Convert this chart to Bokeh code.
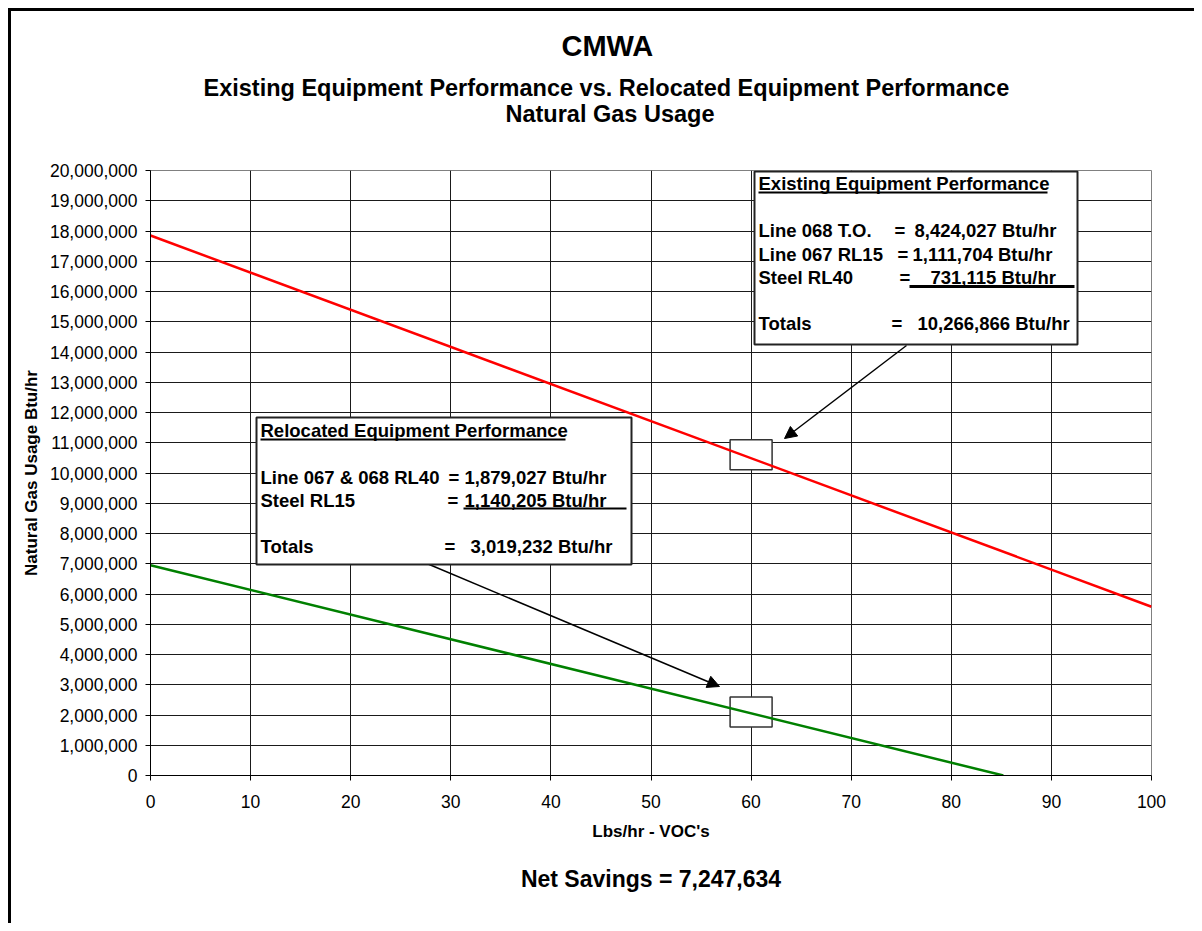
from bokeh.plotting import figure
from bokeh.models import (Label, BoxAnnotation, Arrow, NormalHead, NumeralTickFormatter,
                          SingleIntervalTicker, Range1d, Title)
from bokeh.embed import file_html
from bokeh.resources import INLINE

# ---------------- data ----------------
existing_x = [0, 100]
existing_y = [17850000, 5580000]
relocated_x = [0, 85.2]
relocated_y = [6950000, 0]
marker_x = [60, 60]
marker_y = [10600000, 2100000]

existing_items = ["Line 068 T.O.", "Line 067 RL15", "Steel RL40"]
existing_values = [8424027, 1111704, 731115]
existing_total = 10266866
relocated_items = ["Line 067 & 068 RL40", "Steel RL15"]
relocated_values = [1879027, 1140205]
relocated_total = 3019232
net_savings = 7247634

FONT = "Liberation Sans"

# frame geometry (page pixels) used to place annotations
FL, FR, FT, FB = 150, 1151, 170, 775
def dx(px):
    return (px - FL) * 100.0 / (FR - FL)
def dy(py):
    return (FB - py) * 20e6 / (FB - FT)

p = figure(frame_width=FR - FL, frame_height=FB - FT,
           x_range=Range1d(0, 100), y_range=Range1d(0, 20e6),
           output_backend="svg", toolbar_location=None,
           min_border_left=139, min_border_top=159, min_border_right=43, min_border_bottom=148,
           background_fill_color="white", border_fill_color="white")
p.styles = {"border-top": "3px solid #000", "border-left": "3px solid #000",
            "margin-left": "8px", "margin-top": "8px"}
p.outline_line_color = "#808080"
p.outline_line_width = 1

xt = SingleIntervalTicker(interval=10, num_minor_ticks=0)
yt = SingleIntervalTicker(interval=1000000, num_minor_ticks=0)
p.xaxis.ticker = xt
p.yaxis.ticker = yt
p.xgrid.ticker = xt
p.ygrid.ticker = yt
p.yaxis.formatter = NumeralTickFormatter(format="0,0")
for ax in (p.xaxis[0], p.yaxis[0]):
    ax.major_label_text_font = FONT
    ax.major_label_text_font_size = "17.5px"
    ax.major_label_text_color = "black"
    ax.major_tick_out = 5
    ax.major_tick_in = 0
    ax.minor_tick_out = 0
    ax.minor_tick_in = 0
    ax.axis_line_color = "black"
    ax.major_tick_line_color = "black"
    ax.axis_label_text_font = FONT
    ax.axis_label_text_font_style = "bold"
    ax.axis_label_text_font_size = "17px"
    ax.axis_label_text_color = "black"
p.xaxis.axis_label = "Lbs/hr - VOC's"
p.yaxis.axis_label = "Natural Gas Usage Btu/hr"
p.xaxis.major_label_standoff = 14
p.yaxis.major_label_standoff = 8
p.xaxis.axis_label_standoff = 11
p.yaxis.axis_label_standoff = 6
for g in (p.xgrid[0], p.ygrid[0]):
    g.grid_line_color = "#1a1a1a"
    g.grid_line_width = 1

# titles, stacked upward from the frame: spacer, subtitle 2, subtitle 1, main title
def title(text, size, standoff, valign="middle", align="left", offset=0, where="above"):
    p.add_layout(Title(text=text, align=align, vertical_align=valign, offset=offset,
                       text_font=FONT, text_font_size=size, text_font_style="bold",
                       text_color="black", standoff=standoff), where)

title(" ", "23.5px", 14)
title("Natural Gas Usage", "23.5px", 0, valign="top", offset=355)
title("Existing Equipment Performance vs. Relocated Equipment Performance", "23.5px", 0,
      valign="bottom", offset=53)
title("CMWA", "29px", 19, offset=411)
title(f"Net Savings = {net_savings:,}", "23px", 42, align="center", where="below")

# markers then lines
p.rect(x=marker_x, y=marker_y, width=42, height=30, width_units="screen", height_units="screen",
       fill_color="white", line_color="#333333", line_width=1.5)
p.line(existing_x, existing_y, line_color="#FF0000", line_width=2.5)
p.line(relocated_x, relocated_y, line_color="#008000", line_width=2.5)

BOXFONT = "18.5px"
def lab(px, py, text, size=BOXFONT, align="left", bold=True):
    p.add_layout(Label(x=dx(px), y=dy(py), text=text, text_font=FONT, text_font_size=size,
                       text_font_style="bold" if bold else "normal", text_color="black",
                       text_align=align, text_baseline="middle"))

def hline(x0, x1, py, th=2):
    p.add_layout(BoxAnnotation(left=dx(x0), right=dx(x1), top=dy(py - th / 2), bottom=dy(py + th / 2),
                               fill_color="black", fill_alpha=1, line_alpha=0, level="annotation"))

def box(x0, x1, y0, y1):
    p.add_layout(BoxAnnotation(left=dx(x0), right=dx(x1), top=dy(y0), bottom=dy(y1),
                               fill_color="white", fill_alpha=1, line_color="#222222",
                               line_width=2, line_alpha=1, level="annotation"))

# arrows
p.add_layout(Arrow(end=NormalHead(size=12, fill_color="black", line_color="black"),
                   x_start=dx(906), y_start=dy(345), x_end=dx(784), y_end=dy(438),
                   line_color="black", line_width=1.5))
p.add_layout(Arrow(end=NormalHead(size=12, fill_color="black", line_color="black"),
                   x_start=dx(424), y_start=dy(562), x_end=dx(719), y_end=dy(686),
                   line_color="black", line_width=1.5))

# Existing box
box(754, 1077, 171, 344)
lab(758, 183, "Existing Equipment Performance")
hline(758, 1047, 192, 2)
ex_y = [230, 253.5, 276.5]
ex_eq = [894, 897, 899]
ex_val = [914, 912, 930]
for i in range(3):
    lab(758, ex_y[i], existing_items[i])
    lab(ex_eq[i], ex_y[i], "=")
    lab(ex_val[i], ex_y[i], f"{existing_values[i]:,} Btu/hr")
hline(909, 1074, 286, 3)
lab(758, 322.5, "Totals")
lab(891, 322.5, "=")
lab(917, 322.5, f"{existing_total:,} Btu/hr")

# Relocated box
box(256, 631, 417, 564)
lab(260, 430, "Relocated Equipment Performance")
hline(260, 565, 439, 2)
re_y = [477, 500]
re_eq = [448, 447]
re_val = [464, 464]
for i in range(2):
    lab(260, re_y[i], relocated_items[i])
    lab(re_eq[i], re_y[i], "=")
    lab(re_val[i], re_y[i], f"{relocated_values[i]:,} Btu/hr")
hline(463, 626, 508, 2)
lab(260, 545.5, "Totals")
lab(444, 545.5, "=")
lab(470, 545.5, f"{relocated_total:,} Btu/hr")

open("out.html", "w").write(file_html(p, INLINE))
